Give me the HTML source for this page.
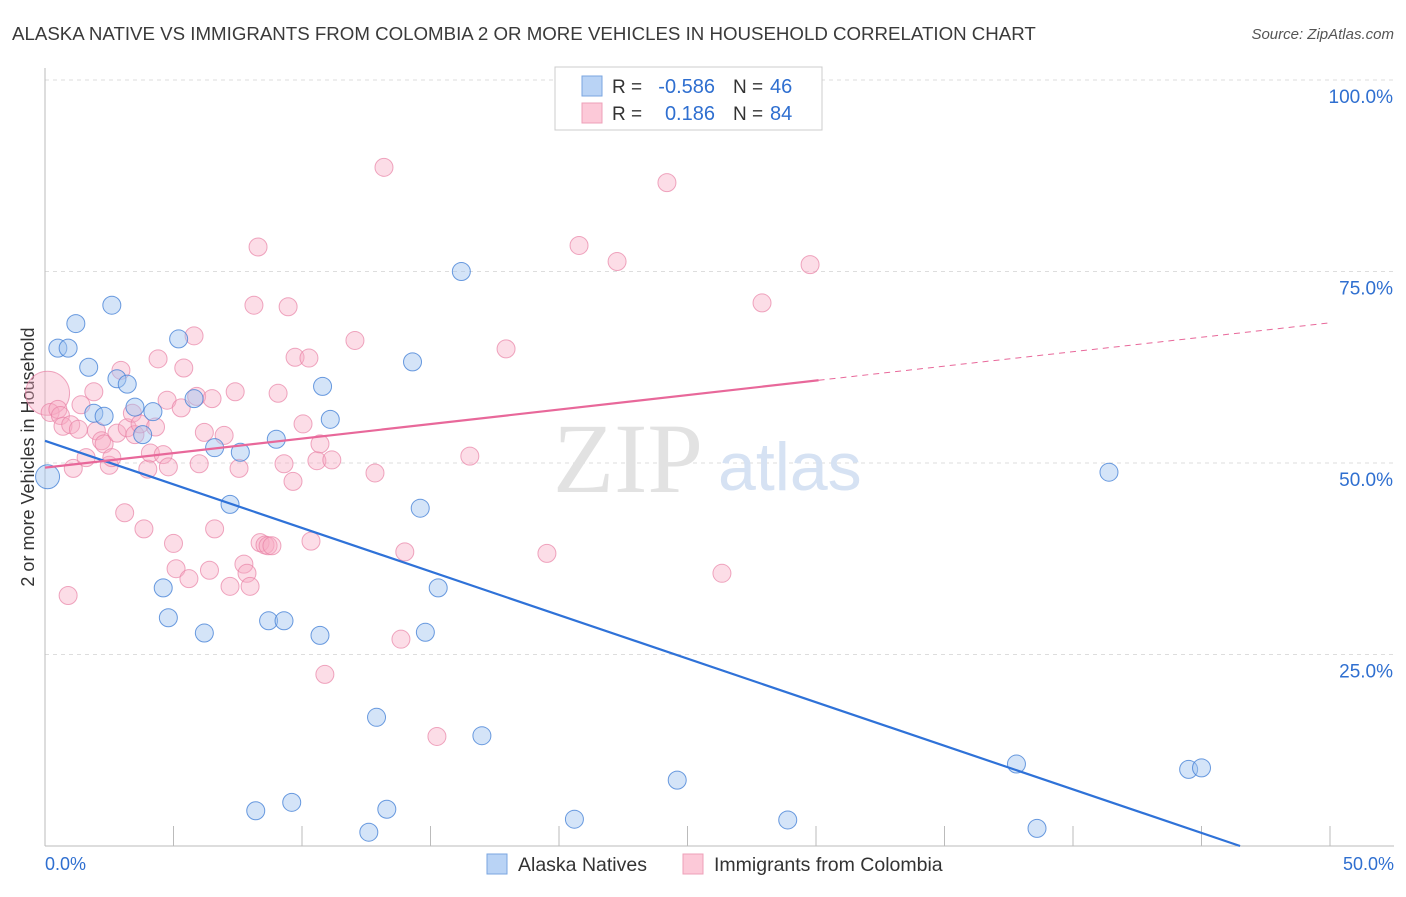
<!DOCTYPE html>
<html><head><meta charset="utf-8"><style>
body{margin:0;background:#fff;font-family:"Liberation Sans",sans-serif;}
svg text{font-family:"Liberation Sans",sans-serif;}
</style></head><body>
<svg id="c" width="1406" height="892" xmlns="http://www.w3.org/2000/svg">
<text x="12" y="40" font-size="18.7" fill="#3a3a3a">ALASKA NATIVE VS IMMIGRANTS FROM COLOMBIA 2 OR MORE VEHICLES IN HOUSEHOLD CORRELATION CHART</text>
<text x="1394" y="39" font-size="15" fill="#555" font-style="italic" text-anchor="end">Source: ZipAtlas.com</text>
<g id="grid"></g>
<line x1="45" y1="68" x2="45" y2="846" stroke="#bbb"/>
<line x1="45" y1="846" x2="1394" y2="846" stroke="#bbb"/>
<text x="553" y="492" font-size="100" fill="#e2e2e2" style="font-family:'Liberation Serif',serif">ZIP</text>
<text x="718" y="490" font-size="68" fill="#d6e2f3">atlas</text>
<text transform="translate(34,457) rotate(-90)" font-size="18" fill="#333" text-anchor="middle">2 or more Vehicles in Household</text>
<g id="pts"></g>
<g id="lines"></g>
<g>
<rect x="555" y="67" width="267" height="63" fill="#fff" stroke="#ccc"/>
<rect x="582" y="76" width="20" height="20" fill="#b9d3f5" stroke="#7aa6e0"/>
<rect x="582" y="103" width="20" height="20" fill="#fcc9d8" stroke="#eea0b8"/>
<text x="612" y="93" font-size="19" fill="#333">R =</text>
<text x="715" y="93" font-size="20" fill="#2f6fd0" text-anchor="end">-0.586</text>
<text x="733" y="93" font-size="19" fill="#333">N =</text>
<text x="770" y="93" font-size="20" fill="#2f6fd0">46</text>
<text x="612" y="120" font-size="19" fill="#333">R =</text>
<text x="715" y="120" font-size="20" fill="#2f6fd0" text-anchor="end">0.186</text>
<text x="733" y="120" font-size="19" fill="#333">N =</text>
<text x="770" y="120" font-size="20" fill="#2f6fd0">84</text>
</g>
<g>
<rect x="487" y="854" width="20" height="20" fill="#b9d3f5" stroke="#7aa6e0"/>
<text x="518" y="871" font-size="19.5" fill="#333">Alaska Natives</text>
<rect x="683" y="854" width="20" height="20" fill="#fcc9d8" stroke="#eea0b8"/>
<text x="714" y="871" font-size="19.5" fill="#333">Immigrants from Colombia</text>
</g>
<text x="45" y="870" font-size="18" fill="#2f6fd0">0.0%</text>
<text x="1394" y="870" font-size="18" fill="#2f6fd0" text-anchor="end">50.0%</text>
</svg>
<script>
const yTicks=[100,75,50,25];
const yTickLabels=["100.0%","75.0%","50.0%","25.0%"];
const xTicks=[0,5,10,15,20,25,30,35,40,45,50];
const blueX=[0.1,0.5,0.9,1.2,1.7,2.6,1.9,2.3,2.8,3.2,3.5,4.2,3.8,4.6,4.8,5.2,5.8,6.2,6.6,7.2,7.6,8.7,9.0,9.3,9.6,8.2,10.7,10.8,11.1,12.6,12.9,13.3,14.3,14.6,14.8,15.3,16.2,17.0,20.6,24.6,28.9,37.8,38.6,41.4,44.5,45.0];
const blueY=[48.2,65.0,65.0,68.2,62.5,70.6,56.5,56.1,61.0,60.3,57.3,56.7,53.7,33.7,29.8,66.2,58.4,27.8,52.0,44.6,51.4,29.4,53.1,29.4,5.7,4.6,27.5,60.0,55.7,1.8,16.8,4.8,63.2,44.1,27.9,33.7,75.0,14.4,3.5,8.6,3.4,10.7,2.3,48.8,10.0,10.2];
const pinkX=[0.1,0.2,0.5,0.6,0.7,0.9,1.0,1.1,1.3,1.4,1.6,1.9,2.0,2.2,2.3,2.5,2.6,2.8,2.955,3.1,3.2,3.4,3.5,3.7,3.85,4.0,4.1,4.3,4.4,4.6,4.75,4.8,5.0,5.1,5.3,5.4,5.6,5.8,5.9,6.0,6.2,6.4,6.5,6.6,6.97,7.2,7.4,7.55,7.74,7.86,7.98,8.13,8.29,8.37,8.56,8.68,8.83,9.07,9.3,9.46,9.65,9.73,10.04,10.27,10.35,10.58,10.7,10.89,11.16,12.06,12.84,13.19,13.85,14.0,15.25,16.53,17.94,19.53,20.78,22.26,24.2,26.34,27.9,29.77];
const pinkY=[59.1,56.6,57.0,56.2,54.8,32.7,55.0,49.3,54.4,57.6,50.7,59.3,54.2,52.9,52.5,49.7,50.7,53.9,62.1,43.5,54.6,56.5,53.7,55.1,41.4,49.2,51.3,54.7,63.6,51.1,58.2,49.5,39.5,36.2,57.2,62.4,34.9,66.6,58.7,49.9,54.0,36.0,58.4,41.4,53.6,33.9,59.3,49.3,36.8,35.6,33.9,70.6,78.2,39.6,39.3,39.2,39.2,59.1,49.9,70.4,47.6,63.8,55.1,63.7,39.8,50.3,52.5,22.4,50.4,66.0,48.7,88.6,27.0,38.4,14.3,50.9,64.9,38.2,78.4,76.3,86.6,35.6,70.9,75.9];
const blueTrend=[[0,52.9],[46.5,0]];
const pinkTrend=[[0,49.4],[30.1,60.8],[50,68.3]];
const X=v=>45+v*25.7, Y=v=>846-v*7.66;
const NS="http://www.w3.org/2000/svg";
function mk(tag,attrs,parent){const e=document.createElementNS(NS,tag);for(const k in attrs)e.setAttribute(k,attrs[k]);parent.appendChild(e);return e;}
const grid=document.getElementById('grid');
yTicks.forEach((t,i)=>{
 const l=mk('line',{x1:45,x2:1394,y1:Y(t),y2:Y(t),stroke:'#ddd','stroke-dasharray':'4,4'},grid);
 
 
 const tx=mk('text',{x:1393,y:Y(t)+23,'font-size':19,fill:'#2f6fd0','text-anchor':'end'},grid);
 tx.textContent=yTickLabels[i];
 
 
});
xTicks.forEach(t=>{
 const l=mk('line',{x1:X(t),x2:X(t),y1:826,y2:846,stroke:'#bbb'},grid);
 
 
});
const pts=document.getElementById('pts');
pinkX.forEach((x,i)=>{
 const c=mk('circle',{cx:X(x),cy:Y(pinkY[i]),r:i==0?22:9,fill:'rgba(248,170,195,0.4)',stroke:'rgba(232,130,165,0.7)','stroke-width':1},pts);
 
 
});
blueX.forEach((x,i)=>{
 const c=mk('circle',{cx:X(x),cy:Y(blueY[i]),r:i==0?12:9,fill:'rgba(160,195,240,0.45)',stroke:'rgba(70,130,215,0.8)','stroke-width':1},pts);
 
 
});
const lines=document.getElementById('lines');
const bl=mk('line',{x1:X(blueTrend[0][0]),y1:Y(blueTrend[0][1]),x2:X(blueTrend[1][0]),y2:Y(blueTrend[1][1]),stroke:'#2f72d8','stroke-width':2.2},lines);


const pl=mk('line',{x1:X(pinkTrend[0][0]),y1:Y(pinkTrend[0][1]),x2:X(pinkTrend[1][0]),y2:Y(pinkTrend[1][1]),stroke:'#e8689a','stroke-width':2.2},lines);


const pd=mk('line',{x1:X(pinkTrend[1][0]),y1:Y(pinkTrend[1][1]),x2:X(pinkTrend[2][0]),y2:Y(pinkTrend[2][1]),stroke:'#e8689a','stroke-width':1,'stroke-dasharray':'6,5'},lines);


</script>
</body></html>
